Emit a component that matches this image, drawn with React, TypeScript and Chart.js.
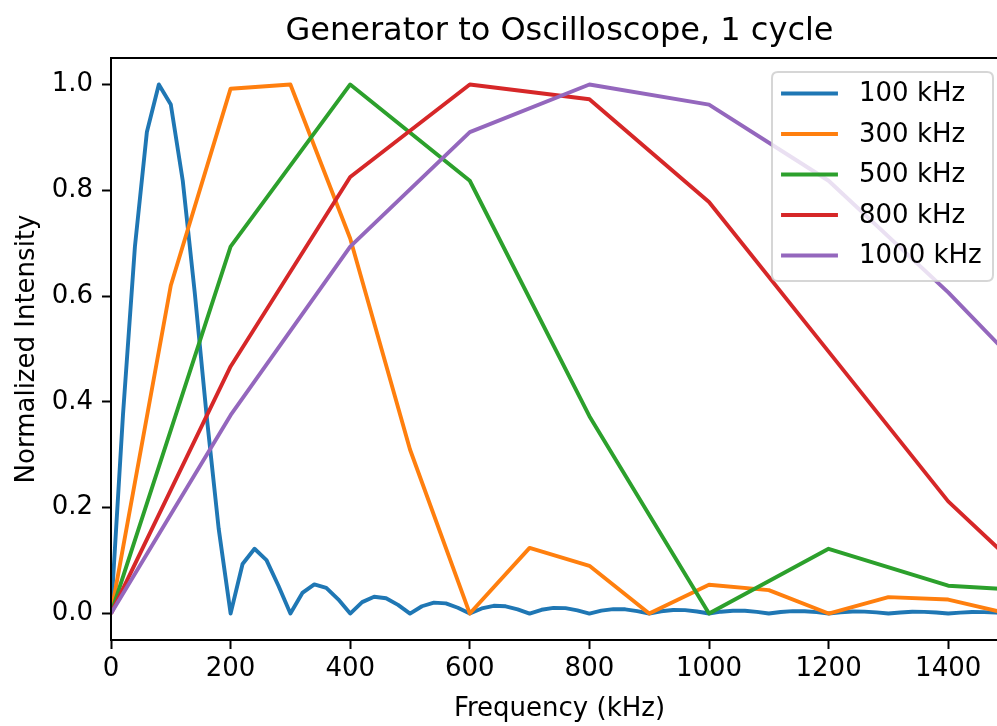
import React, { useEffect, useRef } from "react";
import { Chart, registerables } from "chart.js";

Chart.register(...registerables);

const TITLE = "Generator to Oscilloscope, 1 cycle";
const X_LABEL = "Frequency (kHz)";
const Y_LABEL = "Normalized Intensity";
const SERIES_LABELS = ["100 kHz", "300 kHz", "500 kHz", "800 kHz", "1000 kHz"];
const COLORS = ["#1f77b4", "#ff7f0e", "#2ca02c", "#d62728", "#9467bd"];
const X_TICKS = [0, 200, 400, 600, 800, 1000, 1200, 1400];
const Y_TICKS = [0, 0.2, 0.4, 0.6, 0.8, 1.0];

// 100 kHz series (fine sampling)
const freq100 = [
  0, 20, 40, 60, 80, 100, 120, 140, 160, 180,
  200, 220, 240, 260, 280, 300, 320, 340, 360, 380,
  400, 420, 440, 460, 480, 500, 520, 540, 560, 580,
  600, 620, 640, 660, 680, 700, 720, 740, 760, 780,
  800, 820, 840, 860, 880, 900, 920, 940, 960, 980,
  1000, 1020, 1040, 1060, 1080, 1100, 1120, 1140, 1160, 1180,
  1200, 1220, 1240, 1260, 1280, 1300, 1320, 1340, 1360, 1380,
  1400, 1420, 1440, 1460, 1480, 1500,
];
const int100 = [
  0, 0.375, 0.6935, 0.91, 1.0, 0.962, 0.818, 0.607, 0.373, 0.161,
  0, 0.0937, 0.1224, 0.1011, 0.0526, 0, 0.039, 0.0552, 0.0487, 0.0268,
  0, 0.0216, 0.0317, 0.0289, 0.0163, 0, 0.0138, 0.0207, 0.0192, 0.011,
  0, 0.0096, 0.0146, 0.0137, 0.008, 0, 0.0071, 0.0108, 0.0103, 0.006,
  0, 0.0054, 0.0084, 0.008, 0.0047, 0, 0.0043, 0.0067, 0.0064, 0.0038,
  0, 0.0035, 0.0054, 0.0052, 0.0031, 0, 0.0029, 0.0045, 0.0044, 0.0026,
  0, 0.0024, 0.0038, 0.0037, 0.0022, 0, 0.0021, 0.0033, 0.0032, 0.0019,
  0, 0.0018, 0.0028, 0.0027, 0.0017, 0,
];

// 300 kHz series
const freq300 = [0, 100, 200, 300, 400, 500, 600, 700, 800, 900, 1000, 1100, 1200, 1300, 1400, 1500];
const int300 = [0, 0.62, 0.992, 1.0, 0.709, 0.31, 0, 0.124, 0.0902, 0, 0.0545, 0.0443, 0, 0.031, 0.0265, 0];

// 500 kHz series
const freq500 = [0, 200, 400, 600, 800, 1000, 1200, 1400, 1600];
const int500 = [0, 0.6935, 1.0, 0.818, 0.373, 0, 0.1224, 0.0526, 0.039];

// 800 kHz series
const freq800 = [0, 200, 400, 600, 800, 1000, 1200, 1400, 1600];
const int800 = [0, 0.467, 0.825, 1.0, 0.972, 0.778, 0.495, 0.212, 0];

// 1000 kHz series
const freq1000 = [0, 200, 400, 600, 800, 1000, 1200, 1400, 1600];
const int1000 = [0, 0.375, 0.6935, 0.91, 1.0, 0.962, 0.818, 0.607, 0.373];

const SERIES_X = [freq100, freq300, freq500, freq800, freq1000];
const SERIES_Y = [int100, int300, int500, int800, int1000];

const FONT = '"DejaVu Sans", sans-serif';

const decorPlugin = {
  id: "decor",
  afterDraw(chart: any) {
    const { ctx, chartArea: a } = chart;
    ctx.save();
    // top & right spines
    ctx.strokeStyle = "#000";
    ctx.lineWidth = 2;
    ctx.lineCap = "butt";
    ctx.beginPath();
    ctx.moveTo(a.left - 1, a.top);
    ctx.lineTo(a.right, a.top);
    ctx.lineTo(a.right, a.bottom + 1);
    ctx.stroke();

    const cx = (a.left + a.right) / 2;
    ctx.fillStyle = "#000";
    ctx.textAlign = "center";
    ctx.textBaseline = "alphabetic";
    ctx.font = `32px ${FONT}`;
    ctx.fillText(TITLE, cx, 40);

    ctx.font = `26px ${FONT}`;
    ctx.fillText(X_LABEL, cx, 716);

    ctx.save();
    ctx.translate(34, (a.top + a.bottom) / 2);
    ctx.rotate(-Math.PI / 2);
    ctx.fillText(Y_LABEL, 0, 0);
    ctx.restore();

    // legend
    const lw = 221;
    const lh = 209;
    const lx = a.right - 15 - lw;
    const ly = a.top + 14;
    const r = 6;
    ctx.beginPath();
    ctx.moveTo(lx + r, ly);
    ctx.lineTo(lx + lw - r, ly);
    ctx.quadraticCurveTo(lx + lw, ly, lx + lw, ly + r);
    ctx.lineTo(lx + lw, ly + lh - r);
    ctx.quadraticCurveTo(lx + lw, ly + lh, lx + lw - r, ly + lh);
    ctx.lineTo(lx + r, ly + lh);
    ctx.quadraticCurveTo(lx, ly + lh, lx, ly + lh - r);
    ctx.lineTo(lx, ly + r);
    ctx.quadraticCurveTo(lx, ly, lx + r, ly);
    ctx.closePath();
    ctx.fillStyle = "rgba(255,255,255,0.8)";
    ctx.fill();
    ctx.strokeStyle = "rgba(204,204,204,0.8)";
    ctx.lineWidth = 2;
    ctx.stroke();

    ctx.textAlign = "left";
    ctx.textBaseline = "middle";
    ctx.font = `26px ${FONT}`;
    for (let i = 0; i < SERIES_LABELS.length; i++) {
      const y = ly + 21.5 + i * 40.5;
      ctx.strokeStyle = COLORS[i];
      ctx.lineWidth = 3.9;
      ctx.lineCap = "square";
      ctx.beginPath();
      ctx.moveTo(lx + 11, y);
      ctx.lineTo(lx + 64, y);
      ctx.stroke();
      ctx.fillStyle = "#000";
      ctx.fillText(SERIES_LABELS[i], lx + 87, y + 1);
    }
    ctx.restore();
  },
};

export default function App() {
  const ref = useRef<HTMLCanvasElement>(null);

  useEffect(() => {
    if (!ref.current) return;
    const datasets = SERIES_LABELS.map((label, i) => ({
      label,
      data: SERIES_X[i].map((x, j) => ({ x, y: SERIES_Y[i][j] })),
      borderColor: COLORS[i],
      backgroundColor: COLORS[i],
      borderWidth: 3.9,
      pointRadius: 0,
      tension: 0,
      fill: false,
      borderJoinStyle: "round" as const,
      borderCapStyle: "butt" as const,
      order: SERIES_LABELS.length - i,
    }));

    const tickFont = { family: FONT, size: 26 };

    const chart = new Chart(ref.current, {
      type: "line",
      data: { datasets },
      plugins: [decorPlugin],
      options: {
        animation: false,
        responsive: false,
        devicePixelRatio: 1,
        layout: { padding: { top: 58, right: 4, left: 0, bottom: 0 } },
        plugins: {
          legend: { display: false },
          title: { display: false },
          tooltip: { enabled: false },
        },
        events: [],
        scales: {
          x: {
            type: "linear",
            min: 0,
            max: 1500,
            afterBuildTicks: (s: any) => {
              s.ticks = X_TICKS.map((v) => ({ value: v }));
            },
            afterFit: (s: any) => {
              s.height = 86;
            },
            grid: {
              display: true,
              drawOnChartArea: false,
              drawTicks: true,
              tickLength: 9,
              tickWidth: 2,
              tickColor: "#000",
            },
            border: { display: true, color: "#000", width: 2, z: 1 },
            ticks: {
              color: "#000",
              font: tickFont,
              padding: 5,
              maxRotation: 0,
              autoSkip: false,
              callback: (v: any) => String(v),
            },
          },
          y: {
            type: "linear",
            min: -0.05,
            max: 1.05,
            afterBuildTicks: (s: any) => {
              s.ticks = Y_TICKS.map((v) => ({ value: v }));
            },
            afterFit: (s: any) => {
              s.width = 111;
            },
            grid: {
              display: true,
              drawOnChartArea: false,
              drawTicks: true,
              tickLength: 9,
              tickWidth: 2,
              tickColor: "#000",
            },
            border: { display: true, color: "#000", width: 2, z: 1 },
            ticks: {
              color: "#000",
              font: tickFont,
              padding: 9,
              autoSkip: false,
              callback: (v: any) => Number(v).toFixed(1),
            },
          },
        },
      },
    });
    return () => chart.destroy();
  }, []);

  return (
    <div
      style={{
        position: "fixed",
        left: 0,
        top: 0,
        width: 997,
        height: 726,
        overflow: "hidden",
        background: "#fff",
      }}
    >
      <canvas
        ref={ref}
        width={1012}
        height={726}
        style={{ display: "block", width: 1012, height: 726 }}
      />
    </div>
  );
}
